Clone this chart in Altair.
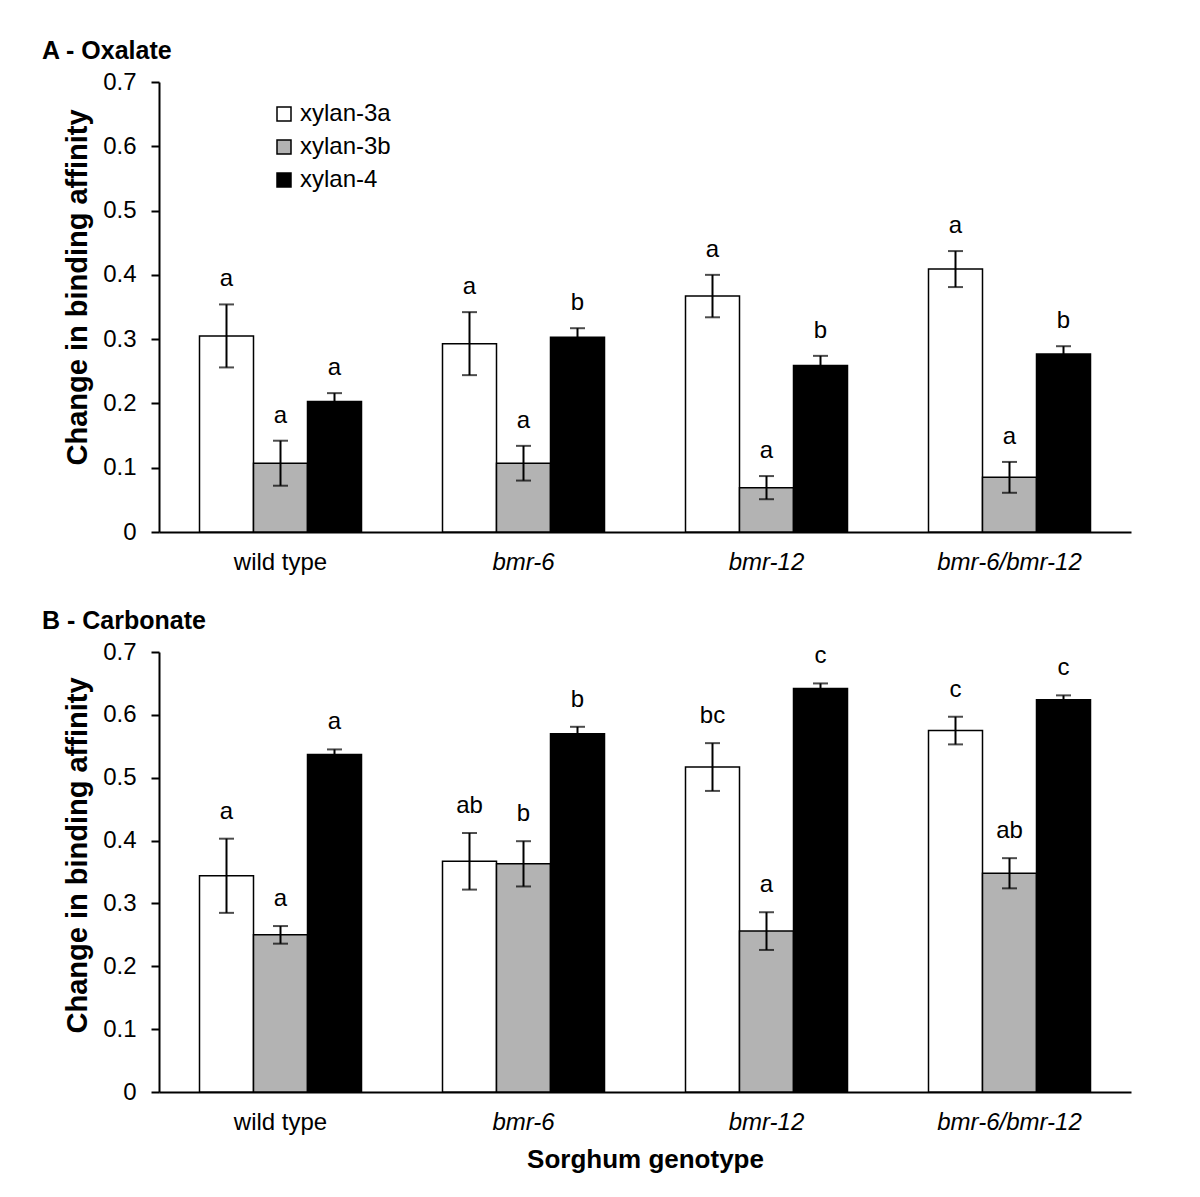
import altair as alt
import pandas as pd

genotypes = ["wild type", "bmr-6", "bmr-12", "bmr-6/bmr-12"]
series = ["xylan-3a", "xylan-3b", "xylan-4"]
colors = ["#FFFFFF", "#B3B3B3", "#000000"]

# A - Oxalate
ox_3a = [0.305, 0.293, 0.367, 0.409]
ox_3a_err = [0.049, 0.049, 0.033, 0.028]
ox_3b = [0.107, 0.107, 0.069, 0.085]
ox_3b_err = [0.035, 0.027, 0.018, 0.024]
ox_4 = [0.203, 0.303, 0.259, 0.277]
ox_4_err = [0.013, 0.014, 0.015, 0.012]
ox_3a_let = ["a", "a", "a", "a"]
ox_3b_let = ["a", "a", "a", "a"]
ox_4_let = ["a", "b", "b", "b"]

# B - Carbonate
ca_3a = [0.344, 0.367, 0.517, 0.575]
ca_3a_err = [0.059, 0.045, 0.038, 0.022]
ca_3b = [0.250, 0.363, 0.256, 0.348]
ca_3b_err = [0.014, 0.036, 0.030, 0.024]
ca_4 = [0.537, 0.570, 0.642, 0.624]
ca_4_err = [0.008, 0.011, 0.008, 0.007]
ca_3a_let = ["a", "ab", "bc", "c"]
ca_3b_let = ["a", "b", "a", "ab"]
ca_4_let = ["a", "b", "c", "c"]

y_ticks = [0, 0.1, 0.2, 0.3, 0.4, 0.5, 0.6, 0.7]


def build(vals, errs, lets):
    rows = []
    for s, v, e, l in zip(series, vals, errs, lets):
        for g, vv, ee, ll in zip(genotypes, v, e, l):
            rows.append({"genotype": g, "series": s, "value": vv, "err": ee,
                         "lo": vv - ee, "hi": vv + ee, "letter": ll})
    return pd.DataFrame(rows)


df_a = build([ox_3a, ox_3b, ox_4], [ox_3a_err, ox_3b_err, ox_4_err],
             [ox_3a_let, ox_3b_let, ox_4_let])
df_b = build([ca_3a, ca_3b, ca_4], [ca_3a_err, ca_3b_err, ca_4_err],
             [ca_3a_let, ca_3b_let, ca_4_let])

FONT = "Liberation Sans"


def panel(df, title_text, height, show_legend, x_title, title_y, label_dy):
    xscale = alt.Scale(paddingInner=1 / 3, paddingOuter=1 / 6)
    xaxis = alt.Axis(
        title=x_title, labelAngle=0, ticks=False, labelPadding=18,
        labelFontSize=24, labelColor="black", domainColor="black",
        domainWidth=2, titleFontSize=26, titleFontWeight="bold",
        titleColor="black", titlePadding=12,
        labelFontStyle={"condition": {"test": "datum.value == 'wild type'",
                                      "value": "normal"}, "value": "italic"},
    )
    yaxis = alt.Axis(
        values=y_ticks, format=".1~f", title="Change in binding affinity",
        titleFontSize=29, titleFontWeight="bold", titleColor="black",
        labelFontSize=24, labelColor="black", tickSize=8, tickWidth=2,
        tickColor="black", domainColor="black", domainWidth=2, grid=False,
        labelPadding=15, titlePadding=10, titleY=title_y,
    )
    x = alt.X("genotype:N", sort=genotypes, scale=xscale, axis=xaxis)
    xo = alt.XOffset("series:N", sort=series,
                     scale=alt.Scale(paddingInner=0, paddingOuter=0))
    yscale = alt.Scale(domain=[0, 0.7], nice=False)

    if show_legend:
        legend = alt.Legend(
            orient="none", legendX=113, legendY=20, title=None,
            symbolType="square", symbolSize=196, symbolStrokeColor="black",
            symbolStrokeWidth=1.5, labelFontSize=24, labelColor="black",
            labelOffset=4, rowPadding=9, padding=0,
        )
    else:
        legend = None

    base = alt.Chart(df)
    bars = base.mark_bar(stroke="black", strokeWidth=1.5).encode(
        x=x, xOffset=xo,
        y=alt.Y("value:Q", scale=yscale, axis=yaxis),
        color=alt.Color("series:N", sort=series,
                        scale=alt.Scale(domain=series, range=colors),
                        legend=legend),
    )
    rule = base.mark_rule(color="black", strokeWidth=2).encode(
        x=x, xOffset=xo, y="lo:Q", y2="hi:Q")
    cap_hi = base.mark_tick(color="black", size=15, thickness=2).encode(
        x=x, xOffset=xo, y="hi:Q")
    cap_lo = base.mark_tick(color="black", size=15, thickness=2).encode(
        x=x, xOffset=xo, y="lo:Q")
    text = base.mark_text(fontSize=24, dy=label_dy, baseline="alphabetic",
                          color="black").encode(
        x=x, xOffset=xo, y="hi:Q", text="letter:N")

    return alt.layer(bars, rule, cap_hi, cap_lo, text).properties(
        width=972, height=height,
        title=alt.TitleParams(title_text, anchor="start", frame="group",
                              dx=-117, fontSize=25, fontWeight="bold",
                              color="black", offset=6),
    )


pa = panel(df_a, "A - Oxalate", 450, True, None, 205, -18)
pb = panel(df_b, "B - Carbonate", 440, False, "Sorghum genotype", 203, -20)

chart = alt.vconcat(pa, pb, spacing=35).resolve_legend(
    color="independent"
).properties(
    padding={"left": 34, "top": 31, "right": 5, "bottom": 5}
).configure(font=FONT).configure_view(stroke=None)

chart.save("out.html", embed_options={"renderer": "svg", "actions": False})
